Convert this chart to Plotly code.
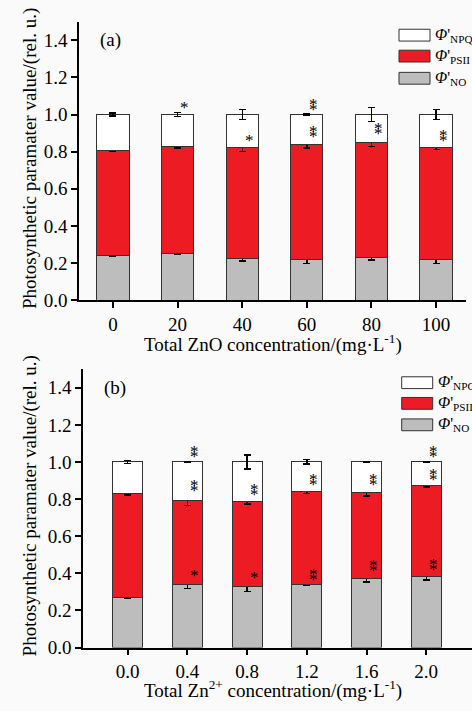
import plotly.graph_objects as go

# ---- data -------------------------------------------------------------
zno_conc = ["0", "20", "40", "60", "80", "100"]
zno_no = [0.242, 0.251, 0.224, 0.221, 0.230, 0.219]
zno_psii = [0.562, 0.578, 0.596, 0.618, 0.622, 0.605]
zno_npq = [0.196, 0.171, 0.180, 0.161, 0.148, 0.176]
zno_no_err = [0.003, 0.002, 0.012, 0.022, 0.014, 0.020]
zno_psii_err = [0.004, 0.010, 0.018, 0.019, 0.024, 0.012]
zno_npq_err = [0.008, 0.012, 0.026, 0.003, 0.037, 0.028]
zno_no_sig = ["", "", "", "", "", ""]
zno_psii_sig = ["", "", "*", "**", "**", "**"]
zno_npq_sig = ["", "*", "", "**", "", ""]

zn_conc = ["0.0", "0.4", "0.8", "1.2", "1.6", "2.0"]
zn_no = [0.268, 0.342, 0.329, 0.340, 0.372, 0.381]
zn_psii = [0.560, 0.451, 0.459, 0.501, 0.463, 0.493]
zn_npq = [0.172, 0.207, 0.212, 0.159, 0.165, 0.126]
zn_no_err = [0.003, 0.024, 0.026, 0.003, 0.018, 0.017]
zn_psii_err = [0.005, 0.027, 0.015, 0.012, 0.019, 0.009]
zn_npq_err = [0.007, 0.003, 0.037, 0.012, 0.003, 0.003]
zn_no_sig = ["", "*", "*", "**", "**", "**"]
zn_psii_sig = ["", "**", "**", "**", "**", "**"]
zn_npq_sig = ["", "**", "", "", "", "**"]

series_names = ["NO", "PSII", "NPQ"]
series_colors = ["#bdbdbd", "#ed1c24", "#ffffff"]

W, H = 472, 711
FONT = "Liberation Serif, Times New Roman, serif"
BG = "#fafafa"


def px_x(p):
    return p / W


def px_y(p):
    return 1 - p / H


fig = go.Figure()

panels = [
    dict(cats=zno_conc, vals=[zno_no, zno_psii, zno_npq],
         errs=[zno_no_err, zno_psii_err, zno_npq_err],
         sigs=[zno_no_sig, zno_psii_sig, zno_npq_sig],
         xa="x", ya="y", label="(a)",
         xtitle="Total ZnO concentration/(mg·L<sup>-1</sup>)",
         xdom=[79, 466], ydom=[22, 305], xrange=[-0.526, 5.464],
         xtitle_y=349, leg_x=399, leg_y=[35.7, 57.0, 79.5]),
    dict(cats=zn_conc, vals=[zn_no, zn_psii, zn_npq],
         errs=[zn_no_err, zn_psii_err, zn_npq_err],
         sigs=[zn_no_sig, zn_psii_sig, zn_npq_sig],
         xa="x2", ya="y2", label="(b)",
         xtitle="Total Zn<sup>2+</sup> concentration/(mg·L<sup>-1</sup>)",
         xdom=[83, 472], ydom=[375, 657.7], xrange=[-0.749, 5.767],
         xtitle_y=700, leg_x=401.7, leg_y=[388.7, 409.7, 431.5]),
]

annotations = []
shapes = []

for p in panels:
    cum = [0.0] * len(p["cats"])
    for k, name in enumerate(series_names):
        v = p["vals"][k]
        e = p["errs"][k]
        fig.add_trace(go.Bar(
            x=p["cats"], y=v, width=0.5, name=name,
            xaxis=p["xa"], yaxis=p["ya"],
            marker=dict(color=series_colors[k], line=dict(color="#333333", width=1)),
            error_y=dict(type="data", array=e, visible=True, color="black",
                         thickness=1.4, width=3.5),
            showlegend=False,
        ))
        cum = [c + vi for c, vi in zip(cum, v)]
        # significance marks next to each error bar (x given as category index)
        for i, s in enumerate(p["sigs"][k]):
            for j in range(len(s)):
                annotations.append(dict(
                    x=i, y=cum[i] + e[i], xref=p["xa"], yref=p["ya"],
                    text="*", showarrow=False, xanchor="center", yanchor="bottom",
                    xshift=7, yshift=-7 + 5 * j,
                    font=dict(family=FONT, size=17, color="black"),
                ))

    # panel label
    annotations.append(dict(
        x=px_x(p["xdom"][0] + 19), y=1.4, xref="paper", yref=p["ya"],
        text=p["label"], showarrow=False, xanchor="left", yanchor="middle",
        font=dict(family=FONT, size=19, color="black"),
    ))
    # y-axis title
    annotations.append(dict(
        x=px_x(30), y=px_y((p["ydom"][0] + p["ydom"][1]) / 2 - 2),
        xref="paper", yref="paper", textangle=-90,
        text="Photosynthetic paramater value/(rel. u.)", showarrow=False,
        xanchor="center", yanchor="middle",
        font=dict(family=FONT, size=19, color="black"),
    ))
    # x-axis title
    annotations.append(dict(
        x=px_x(273), y=px_y(p["xtitle_y"]), xref="paper", yref="paper",
        text=p["xtitle"], showarrow=False, xanchor="center", yanchor="middle",
        font=dict(family=FONT, size=19, color="black"),
    ))

    # legend drawn as boxes plus labels
    leg_labels = ["NPQ", "PSII", "NO"]
    leg_colors = ["#ffffff", "#ed1c24", "#bdbdbd"]
    for r in range(3):
        yc = p["leg_y"][r]
        shapes.append(dict(
            type="rect", xref="paper", yref="paper",
            x0=px_x(p["leg_x"]), x1=px_x(p["leg_x"] + 31),
            y0=px_y(yc + 6), y1=px_y(yc - 6),
            fillcolor=leg_colors[r], line=dict(color="#333333", width=1),
        ))
        annotations.append(dict(
            x=px_x(p["leg_x"] + 34), y=px_y(yc), xref="paper", yref="paper",
            text="<i>Φ</i>'<sub>" + leg_labels[r] + "</sub>", showarrow=False,
            xanchor="left", yanchor="middle",
            font=dict(family=FONT, size=16, color="black"),
        ))

axis_common = dict(showline=True, linecolor="black", linewidth=1.5, ticks="outside",
                   ticklen=6, tickwidth=1.5, tickcolor="black", showgrid=False,
                   zeroline=False, tickfont=dict(family=FONT, size=19, color="black"))

layout_axes = {}
for idx, p in enumerate(panels):
    sfx = "" if idx == 0 else "2"
    layout_axes["xaxis" + sfx] = dict(
        axis_common, type="category", range=p["xrange"],
        domain=[px_x(p["xdom"][0]), px_x(p["xdom"][1])],
        anchor="y" + sfx, fixedrange=True,
    )
    layout_axes["yaxis" + sfx] = dict(
        axis_common, range=[0, 1.5], tickvals=[0, 0.2, 0.4, 0.6, 0.8, 1.0, 1.2, 1.4],
        tickformat=".1f", domain=[px_y(p["ydom"][1]), px_y(p["ydom"][0])],
        anchor="x" + sfx, position=px_x(p["xdom"][0]),
    )

fig.update_layout(
    width=W, height=H, autosize=False,
    margin=dict(l=0, r=0, t=0, b=0),
    paper_bgcolor=BG, plot_bgcolor=BG,
    barmode="stack",
    font=dict(family=FONT, color="black"),
    annotations=annotations, shapes=shapes,
    **layout_axes,
)

fig.write_html("out.html")
